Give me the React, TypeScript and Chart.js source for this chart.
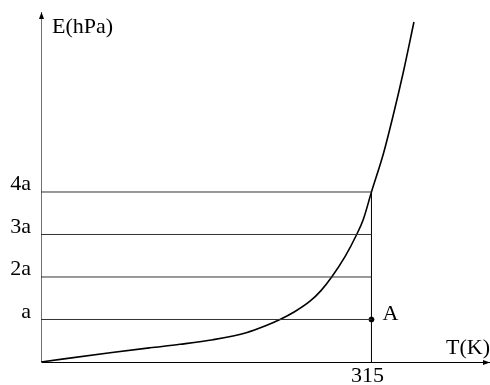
import React, { useEffect, useRef } from "react";
import { Chart, registerables } from "chart.js";

Chart.register(...registerables);

// Curve E(T): x in axis units (315 = marked temperature), y in units of "a"
const curveX = [0, 65.8, 103.9, 132.5, 164.0, 196.4, 213.5, 227.8, 242.1, 256.4, 266.9, 277.1, 289.8, 300.9, 307.2, 315, 326.3, 335.8, 345.4, 355.5];
const curveY = [0, 0.219, 0.334, 0.416, 0.525, 0.695, 0.847, 1.0, 1.188, 1.43, 1.68, 2.0, 2.478, 3.0, 3.353, 4.0, 4.894, 5.812, 6.824, 8.0];

const levelValues = [1, 2, 3, 4];
const yTickLabels = ["a", "2a", "3a", "4a"];
const xTickValues = [315];
const xTickLabels = ["315"];
const pointA = { x: 315, y: 1, label: "A" };
const xMax = 428;
const yMax = 8.235;

const FONT = '"Liberation Serif"';
const FSIZE = 22;

const decorPlugin = {
  id: "decor",
  afterDraw(chart: any) {
    const ctx = chart.ctx;
    const { left, right, top, bottom } = chart.chartArea;
    const xs = chart.scales.x;
    const ys = chart.scales.y;
    ctx.save();
    ctx.fillStyle = "#000";
    // y arrow
    ctx.beginPath();
    ctx.moveTo(left + 0.5, top);
    ctx.lineTo(left + 0.5 - 2.5, top + 7);
    ctx.lineTo(left + 0.5 + 2.5, top + 7);
    ctx.closePath();
    ctx.fill();
    // x arrow
    ctx.beginPath();
    ctx.moveTo(right, bottom + 0.5);
    ctx.lineTo(right - 7, bottom + 0.5 - 2.5);
    ctx.lineTo(right - 7, bottom + 0.5 + 2.5);
    ctx.closePath();
    ctx.fill();
    // texts
    ctx.font = `${FSIZE}px ${FONT}`;
    ctx.textBaseline = "alphabetic";
    ctx.textAlign = "left";
    ctx.fillText("E(hPa)", left + 11, top + 21);
    ctx.textAlign = "right";
    ctx.fillText("T(K)", right, bottom - 8);
    ctx.textAlign = "left";
    ctx.fillText(pointA.label, xs.getPixelForValue(pointA.x) + 11, ys.getPixelForValue(pointA.y) + 0.5);
    ctx.restore();
  },
};

const zeroPadding = (s: any) => {
  s.paddingTop = 0;
  s.paddingBottom = 0;
  s.paddingLeft = 0;
  s.paddingRight = 0;
};

export default function App() {
  const ref = useRef<HTMLCanvasElement>(null);
  useEffect(() => {
    document.body.style.margin = "0";
    const levelSets = levelValues.map((v) => ({
      type: "line" as const,
      data: [
        { x: 0, y: v },
        { x: pointA.x, y: v },
      ],
      borderColor: "#333",
      borderWidth: 1,
      pointRadius: 0,
      fill: false,
    }));
    const chart = new Chart(ref.current!, {
      type: "line",
      data: {
        datasets: [
          ...levelSets,
          {
            type: "line",
            data: [
              { x: pointA.x, y: 0 },
              { x: pointA.x, y: levelValues[levelValues.length - 1] },
            ],
            borderColor: "#000",
            borderWidth: 1,
            pointRadius: 0,
          },
          {
            type: "line",
            data: curveX.map((x, i) => ({ x, y: curveY[i] })),
            borderColor: "#000",
            borderWidth: 1.6,
            pointRadius: 0,
            cubicInterpolationMode: "monotone",
          },
          {
            type: "scatter",
            data: [{ x: pointA.x, y: pointA.y }],
            backgroundColor: "#000",
            borderColor: "#000",
            pointRadius: 2.5,
          },
        ] as any,
      },
      options: {
        animation: false,
        responsive: false,
        layout: { autoPadding: false, padding: { top: 12, right: 0, left: 0, bottom: 0 } },
        plugins: { legend: { display: false }, tooltip: { enabled: false } },
        scales: {
          x: {
            type: "linear",
            min: 0,
            max: xMax,
            grid: { display: false, drawTicks: false },
            border: { display: true, color: "#000", width: 1 },
            afterFit: (s: any) => {
              s.height = 23;
              zeroPadding(s);
            },
            afterBuildTicks: (s: any) => {
              s.ticks = xTickValues.map((v) => ({ value: v }));
            },
            ticks: {
              callback: (v: any) => xTickLabels[xTickValues.indexOf(Number(v))] ?? "",
              font: { family: FONT, size: FSIZE },
              color: "#000",
              padding: 1,
              labelOffset: -4,
              maxRotation: 0,
              autoSkip: false,
            },
          },
          y: {
            type: "linear",
            min: 0,
            max: yMax,
            grid: { display: false, drawTicks: false },
            border: { display: true, color: "#707070", width: 1 },
            afterFit: (s: any) => {
              s.width = 41;
              zeroPadding(s);
            },
            afterBuildTicks: (s: any) => {
              s.ticks = levelValues.map((v) => ({ value: v }));
            },
            ticks: {
              callback: (v: any) => yTickLabels[levelValues.indexOf(Number(v))] ?? "",
              font: { family: FONT, size: FSIZE },
              color: "#000",
              padding: 10,
              labelOffset: -7.5,
              autoSkip: false,
            },
          },
        },
      },
      plugins: [decorPlugin],
    });
    return () => chart.destroy();
  }, []);
  return (
    <div style={{ position: "absolute", left: 0, top: 0, width: 490, height: 385, background: "#fff" }}>
      <canvas ref={ref} width={490} height={385} style={{ display: "block" }} />
    </div>
  );
}
